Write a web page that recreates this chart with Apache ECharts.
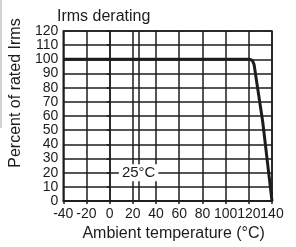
<!DOCTYPE html>
<html>
<head>
<meta charset="utf-8">
<script src="https://cdn.jsdelivr.net/npm/echarts@6/dist/echarts.min.js"></script>
<style>
html, body { margin: 0; padding: 0; background: #fff; }
#chart { width: 296px; height: 247px; }
</style>
</head>
<body>
<div id="chart"></div>
<script>
var temps = [-40, 121, 123, 124.5, 132, 140];
var ratedPct = [100, 100, 99.3, 96.5, 56, 0];
var refTemp = 25;
var refLabel = '25°C';
var xTicks = [-40, -20, 0, 20, 40, 60, 80, 100, 120, 140];
var yTicks = [0, 10, 20, 30, 40, 50, 60, 70, 80, 90, 100, 110, 120];

var dom = document.getElementById('chart');
var myChart = echarts.init(dom, null, { renderer: 'canvas' });

var ink = '#1c1c1c';
var font = 'Liberation Sans';

var option = {
    animation: false,
    backgroundColor: '#fff',
    title: {
        text: 'Irms derating',
        left: 52,
        top: 4,
        textStyle: { fontFamily: font, fontSize: 16, fontWeight: 'normal', color: ink }
    },
    graphic: [
        {
            type: 'line',
            shape: { x1: 1, y1: 0, x2: 1, y2: 128 },
            style: { stroke: '#c4c4c4', lineWidth: 1.5 }
        }
    ],
    grid: {
        left: 55,
        right: 24,
        top: 31,
        bottom: 36,
        show: true,
        borderColor: ink,
        borderWidth: 1.5
    },
    xAxis: {
        type: 'value',
        min: xTicks[0],
        max: xTicks[xTicks.length - 1],
        interval: 20,
        name: 'Ambient temperature (°C)',
        nameLocation: 'middle',
        nameGap: 21,
        nameTextStyle: { fontFamily: font, fontSize: 16, color: ink, padding: [0, 0, 0, 12] },
        axisLine: { lineStyle: { color: ink, width: 1.5 } },
        axisTick: { show: true, length: 3, lineStyle: { color: ink, width: 1.5 } },
        axisLabel: { fontFamily: font, fontSize: 14, color: ink, margin: 6 },
        splitLine: { show: true, lineStyle: { color: ink, width: 1.5 } }
    },
    yAxis: {
        type: 'value',
        min: yTicks[0],
        max: yTicks[yTicks.length - 1],
        interval: 10,
        name: 'Percent of rated Irms',
        nameLocation: 'middle',
        nameGap: 34,
        nameTextStyle: { fontFamily: font, fontSize: 16, color: ink, padding: [0, 0, 0, 46] },
        axisLine: { show: true, lineStyle: { color: ink, width: 1.5 } },
        axisTick: { show: true, length: 3, lineStyle: { color: ink, width: 1.5 } },
        axisLabel: { fontFamily: font, fontSize: 14, color: ink, margin: 5 },
        splitLine: { show: true, lineStyle: { color: ink, width: 1.5 } }
    },
    series: [
        {
            type: 'line',
            data: temps.map(function (t, i) { return [t, ratedPct[i]]; }),
            showSymbol: false,
            lineStyle: { color: ink, width: 3 },
            z: 5,
            markLine: {
                silent: true,
                symbol: 'none',
                label: { show: false },
                lineStyle: { color: ink, width: 1.5, type: 'solid' },
                data: [{ xAxis: refTemp }]
            },
            markPoint: {
                silent: true,
                symbol: 'rect',
                symbolSize: 0,
                data: [{ coord: [refTemp, 20] }],
                label: {
                    show: true,
                    formatter: refLabel,
                    position: 'inside',
                    fontFamily: font,
                    fontSize: 15,
                    color: ink,
                    backgroundColor: '#fff',
                    padding: [1, 3]
                }
            }
        }
    ]
};

myChart.setOption(option);
window.addEventListener('resize', myChart.resize);
</script>
</body>
</html>
